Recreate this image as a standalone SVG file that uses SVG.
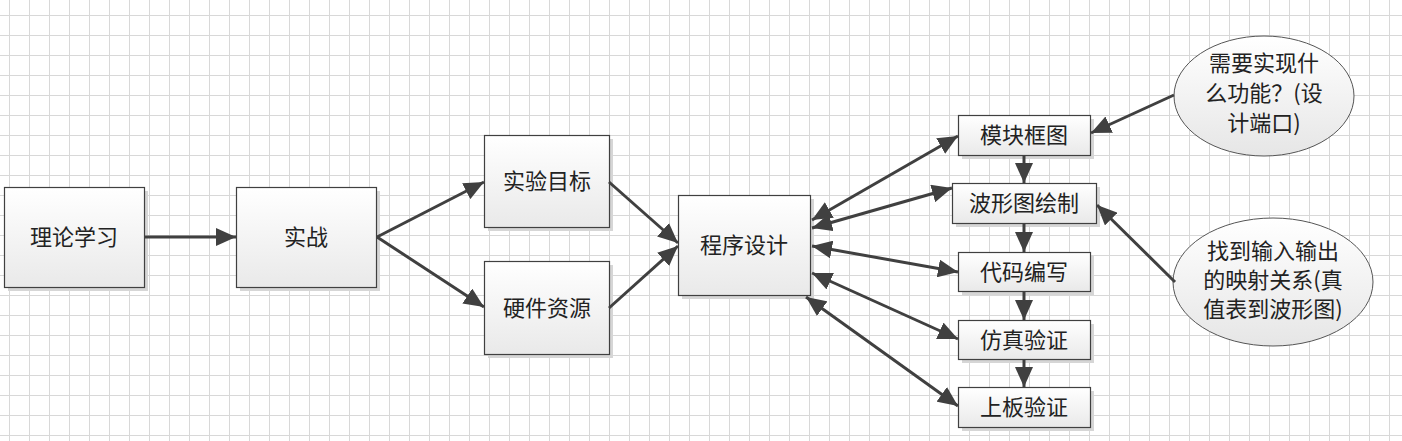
<svg xmlns="http://www.w3.org/2000/svg" width="1402" height="441" viewBox="0 0 1402 441">
<style>
.box{fill:url(#boxg);stroke:#404040;stroke-width:1.2}
.sh{fill:#d6d6d6}
.ell{fill:url(#ellg);stroke:#555;stroke-width:1}
.t{font-family:"Noto Sans CJK SC","Noto Sans",sans-serif;font-size:22px;fill:#222;text-anchor:middle;dominant-baseline:central}
.c{stroke:#404040;stroke-width:3;fill:none;marker-end:url(#ah)}
.d{marker-start:url(#ah)}
</style>
<defs>
<pattern id="grid" patternUnits="userSpaceOnUse" x="0" y="0" width="20" height="20">
<path d="M9.5,0V20M0,15.5H20" stroke="#d8d8d8" stroke-width="1"/>
</pattern>
<linearGradient id="boxg" x1="0" y1="0" x2="0" y2="1">
<stop offset="0" stop-color="#ffffff"/><stop offset="1" stop-color="#e9e9e9"/>
</linearGradient>
<linearGradient id="ellg" x1="0" y1="0" x2="0" y2="1">
<stop offset="0" stop-color="#ffffff"/><stop offset="1" stop-color="#e6e6e6"/>
</linearGradient>
<marker id="ah" markerUnits="userSpaceOnUse" viewBox="0 0 20 18" refX="20" refY="9" markerWidth="20" markerHeight="18" orient="auto-start-reverse">
<path d="M0,0L20,9L0,18z" fill="#404040"/>
</marker>
</defs>
<rect width="1402" height="441" fill="#fff"/>
<rect width="1402" height="441" fill="url(#grid)"/>

<g id="n1"><rect class="sh" x="8" y="191" width="140" height="100"/><rect class="box" x="4.5" y="187.5" width="140" height="100"/><text class="t" x="74" y="235">理论学习</text></g>
<g id="n2"><rect class="sh" x="240" y="191" width="140" height="100"/><rect class="box" x="236.5" y="187.5" width="140" height="100"/><text class="t" x="306" y="235">实战</text></g>
<g id="n3"><rect class="sh" x="488" y="139" width="125" height="92"/><rect class="box" x="484.5" y="135.5" width="125" height="92"/><text class="t" x="547" y="179">实验目标</text></g>
<g id="n4"><rect class="sh" x="488" y="265" width="125" height="93"/><rect class="box" x="484.5" y="261.5" width="125" height="93"/><text class="t" x="547" y="306">硬件资源</text></g>
<g id="n5"><rect class="sh" x="682" y="199" width="132" height="100"/><rect class="box" x="678.5" y="195.5" width="132" height="100"/><text class="t" x="744" y="243">程序设计</text></g>
<g id="n6"><rect class="sh" x="962" y="119" width="132" height="40"/><rect class="box" x="958.5" y="115.5" width="132" height="40"/><text class="t" x="1024" y="133">模块框图</text></g>
<g id="n7"><rect class="sh" x="956" y="187" width="144" height="40"/><rect class="box" x="952.5" y="183.5" width="144" height="40"/><text class="t" x="1024" y="201">波形图绘制</text></g>
<g id="n8"><rect class="sh" x="962" y="256" width="132" height="39"/><rect class="box" x="958.5" y="252.5" width="132" height="39"/><text class="t" x="1024" y="270">代码编写</text></g>
<g id="n9"><rect class="sh" x="962" y="324" width="132" height="39"/><rect class="box" x="958.5" y="320.5" width="132" height="39"/><text class="t" x="1024" y="338">仿真验证</text></g>
<g id="n10"><rect class="sh" x="962" y="391" width="132" height="40"/><rect class="box" x="958.5" y="387.5" width="132" height="40"/><text class="t" x="1024" y="405">上板验证</text></g>

<g id="n11"><ellipse class="ell" cx="1264" cy="96" rx="90" ry="60"/><text class="t" x="1264" y="61">需要实现什</text><text class="t" x="1264" y="91">么功能？(设</text><text class="t" x="1264" y="121">计端口)</text></g>
<g id="n12"><ellipse class="ell" cx="1273" cy="282" rx="100" ry="64"/><text class="t" x="1273" y="249">找到输入输出</text><text class="t" x="1273" y="278">的映射关系(真</text><text class="t" x="1273" y="307">值表到波形图)</text></g>

<g id="connectors">
<line class="c" x1="144" y1="237" x2="236" y2="237"/>
<line class="c" x1="377" y1="237" x2="484" y2="182"/>
<line class="c" x1="377" y1="237" x2="484" y2="307"/>
<line class="c" x1="609" y1="182" x2="678" y2="243"/>
<line class="c" x1="609" y1="308" x2="678" y2="246"/>
<line class="c d" x1="812" y1="220" x2="958" y2="136"/>
<line class="c d" x1="812" y1="228" x2="952" y2="188"/>
<line class="c d" x1="812" y1="246" x2="958" y2="272"/>
<line class="c d" x1="812" y1="273" x2="958" y2="339"/>
<line class="c d" x1="806" y1="297" x2="958" y2="406"/>
<line class="c" x1="1024" y1="155" x2="1024" y2="183"/>
<line class="c" x1="1024" y1="223" x2="1024" y2="252"/>
<line class="c" x1="1024" y1="291" x2="1024" y2="320"/>
<line class="c" x1="1024" y1="359" x2="1024" y2="387"/>
<line class="c" x1="1174" y1="95" x2="1091" y2="133"/>
<line class="c" x1="1175" y1="282" x2="1097" y2="205"/>
</g>
</svg>
